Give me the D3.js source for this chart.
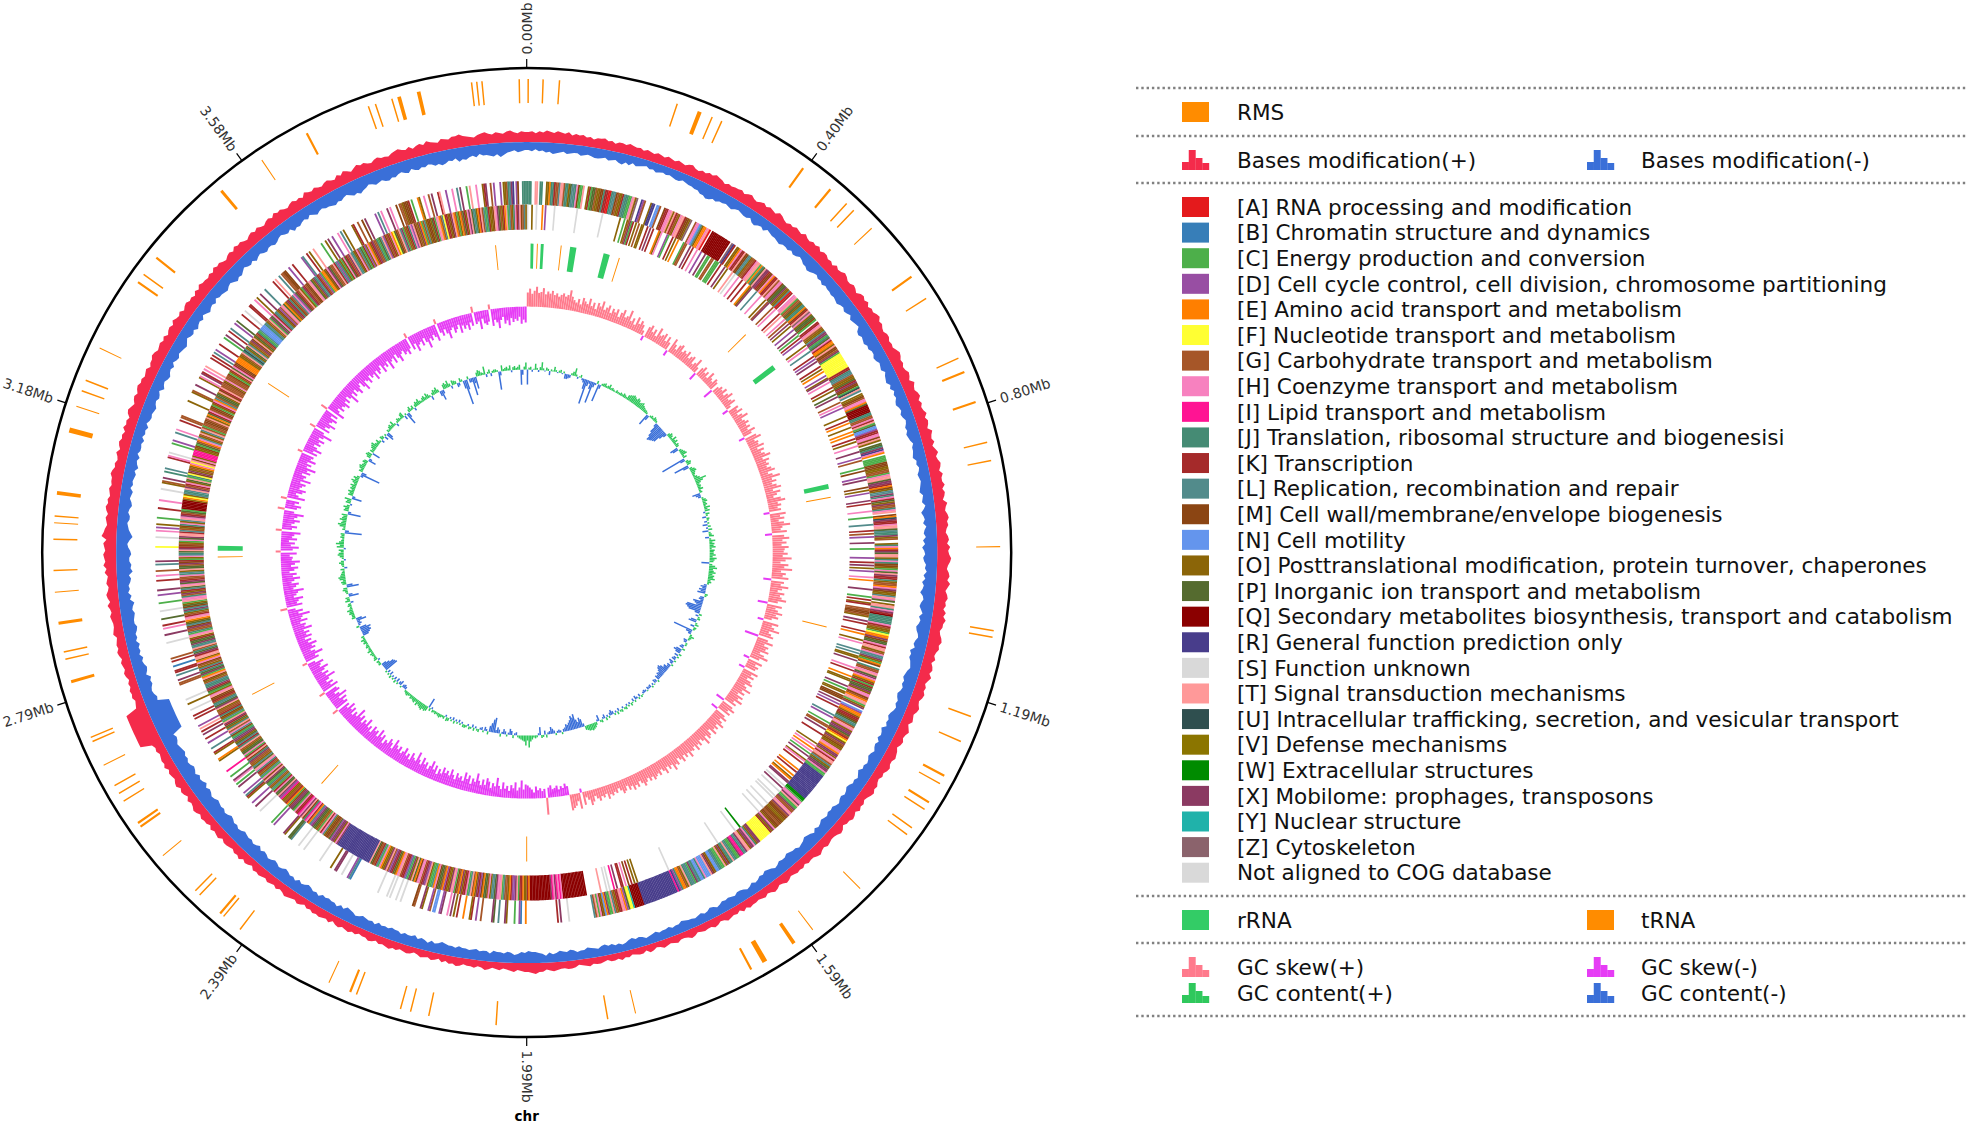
<!DOCTYPE html>
<html>
<head>
<meta charset="utf-8">
<script src="https://cdn.jsdelivr.net/npm/d3@7"></script>
<style>
html,body{margin:0;padding:0;background:#fff;overflow:hidden}
svg{display:block}
text{font-family:"DejaVu Sans",sans-serif}
</style>
</head>
<body>
<svg id="chart" width="1968" height="1126"></svg>
<script>
const genomeMb = 3.98;
const tickMb = [0,0.398,0.796,1.194,1.592,1.99,2.388,2.786,3.184,3.582];
const tickLabels = ["0.00Mb","0.40Mb","0.80Mb","1.19Mb","1.59Mb","1.99Mb","2.39Mb","2.79Mb","3.18Mb","3.58Mb"];
const chromosomeName = "chr";

// RMS sites: centre (Mb) and length (Mb)
const rmsPos = [0.002,0.022,0.044,0.205,0.237,0.255,0.269,0.395,0.441,0.470,0.483,0.517,0.601,0.636,0.727,0.747,0.790,0.846,0.871,0.987,1.100,1.109,1.219,1.255,1.306,1.318,1.347,1.358,1.388,1.399,1.495,1.579,1.610,1.656,1.677,1.843,1.881,2.031,2.122,2.147,2.161,2.223,2.232,2.263,2.402,2.430,2.436,2.473,2.481,2.545,2.594,2.600,2.635,2.647,2.659,2.690,2.725,2.731,2.810,2.841,2.851,2.890,2.932,2.961,3.003,3.025,3.034,3.065,3.151,3.184,3.206,3.221,3.268,3.370,3.383,3.411,3.536,3.604,3.674,3.764,3.774,3.797,3.807,3.834,3.906,3.913,3.920,3.970];
const rmsLen = [0.002,0.002,0.002,0.002,0.0055,0.002,0.002,0.003,0.003,0.002,0.002,0.0014,0.003,0.002,0.002,0.003,0.003,0.002,0.002,0.0014,0.002,0.002,0.002,0.002,0.003,0.002,0.003,0.002,0.002,0.002,0.0014,0.0014,0.005,0.007,0.003,0.0014,0.002,0.002,0.002,0.002,0.002,0.002,0.003,0.0014,0.002,0.002,0.003,0.002,0.002,0.0014,0.003,0.003,0.002,0.002,0.002,0.0014,0.002,0.002,0.004,0.002,0.002,0.004,0.0014,0.002,0.002,0.0014,0.002,0.005,0.007,0.0014,0.002,0.002,0.0014,0.003,0.002,0.003,0.004,0.0014,0.003,0.002,0.002,0.002,0.005,0.005,0.002,0.002,0.002,0.002];

// tRNA and rRNA of the inner feature ring
const trnaPos = [0.022,0.071,0.193,0.499,0.881,1.149,1.990,2.450,2.683,2.976,3.352,3.916];
const trnaLen = [0.002,0.002,0.002,0.002,0.002,0.002,0.002,0.002,0.002,0.002,0.002,0.002];
const rrnaPos = [0.011,0.032,0.096,0.166,0.588,0.858,2.994];
const rrnaLen = [0.006,0.006,0.013,0.013,0.011,0.010,0.010];

// Bases modification, two values per degree of the genome
const basesPlus = [
10,11,9,11,10,12,11,10,12,11,10,12,9,11,10,11,9,10,8,10,
10,11,9,10,8,10,10,9,11,10,9,10,8,10,9,8,10,9,8,10,
9,8,10,9,8,10,11,9,8,10,9,11,10,12,11,10,8,10,9,10,
10,11,9,11,12,10,9,11,12,10,12,11,10,13,12,10,9,11,10,12,
11,10,13,11,10,12,11,13,10,12,12,10,11,9,12,10,11,13,12,10,
10,12,11,9,12,13,11,13,10,12,11,13,14,11,12,10,9,11,11,9,
10,9,11,13,12,10,11,9,10,12,11,9,13,11,10,12,13,10,12,10,
11,13,10,12,11,9,13,11,10,12,9,11,13,10,11,13,12,10,13,11,
11,13,10,12,11,9,13,11,10,12,13,11,12,10,9,11,12,10,13,11,
12,14,13,11,10,12,13,11,14,12,10,12,13,11,12,10,13,11,14,12,
12,10,11,13,14,12,13,11,10,12,9,11,12,10,13,11,9,11,10,12,
11,9,10,12,11,9,10,11,8,10,12,10,9,11,10,8,10,11,12,10,
10,12,11,9,10,8,9,11,10,12,11,9,8,10,9,11,8,10,11,9,
9,7,10,11,9,8,8,9,10,8,9,11,10,8,8,9,7,9,8,9,
8,7,9,10,8,7,9,10,8,7,9,8,7,8,8,9,7,9,6,8,
7,8,9,7,6,8,9,7,7,8,7,6,8,9,7,6,6,8,7,6,
7,8,6,5,7,8,5,7,7,6,5,7,6,8,6,7,7,5,6,7,
7,6,8,7,6,5,7,8,8,7,7,8,9,8,7,9,9,11,10,9,
9,8,7,9,8,7,6,8,7,6,8,9,7,6,8,7,7,6,8,9,
7,8,6,8,5,7,8,6,7,8,6,5,7,8,7,6,8,7,9,8,
7,8,6,8,9,7,7,6,8,7,9,8,7,9,8,6,9,7,8,9,
8,9,7,8,6,8,9,7,8,9,10,8,7,9,7,8,9,7,8,9,
8,9,6,8,9,7,10,8,9,7,8,9,9,7,10,9,8,10,7,9,
9,10,8,10,11,9,8,10,7,9,10,8,11,10,8,9,10,8,11,9,
10,9,8,10,9,11,22,22,22,22,22,22,22,22,22,22,10,9,8,10,
9,10,8,9,7,9,10,8,9,10,8,10,11,9,10,9,8,11,10,9,
9,10,11,9,10,12,9,11,12,10,9,11,10,9,12,10,13,11,12,13,
11,12,13,10,15,13,12,10,11,12,10,12,13,11,12,10,11,12,10,11,
11,13,12,10,11,9,10,12,9,11,12,10,11,9,12,10,11,9,12,13,
11,9,11,12,10,12,13,11,12,10,11,12,9,11,11,13,12,10,11,12,
10,12,9,11,12,10,13,11,10,12,9,11,12,10,11,9,12,10,13,11,
11,10,12,10,13,11,12,10,9,11,12,10,13,11,12,10,9,11,12,10,
12,10,9,11,12,10,13,11,12,10,9,11,12,10,11,9,13,11,10,12,
10,9,11,12,10,9,12,10,13,11,9,11,13,11,12,10,9,11,12,10,
10,9,11,12,13,11,10,12,9,11,12,10,13,11,10,9,12,11,10,12,
12,13,11,10,9,8,10,11,12,10,9,11,10,9,11,12,10,9,11,10];
const basesMinus = [
8,9,7,9,8,10,9,11,10,9,8,10,9,8,8,10,9,8,9,10,
10,9,8,10,9,8,10,11,8,10,7,9,8,7,6,8,7,9,8,7,
8,7,8,9,9,7,8,9,9,10,10,12,12,14,13,11,12,10,10,9,
10,11,9,8,9,10,10,8,11,12,10,9,11,8,9,10,10,11,12,10,
10,11,9,11,10,8,9,11,11,13,12,10,9,11,10,12,10,11,11,12,
11,12,13,11,10,12,11,9,12,11,10,9,13,14,12,13,14,12,13,11,
11,13,12,10,11,12,9,11,12,13,10,12,9,11,10,12,13,11,10,12,
11,9,10,12,11,13,12,11,9,11,11,12,13,10,11,9,10,12,11,10,
11,12,13,10,11,12,9,11,14,12,11,13,10,12,13,11,14,12,15,13,
12,14,13,11,12,10,13,11,14,12,13,15,12,11,13,14,12,10,13,11,
12,14,13,11,10,12,13,11,15,13,14,12,11,10,12,13,14,12,13,11,
12,14,13,11,12,10,11,13,14,12,13,11,15,13,12,14,11,13,12,10,
12,13,11,10,12,11,14,12,10,12,11,13,14,12,11,13,12,10,11,13,
12,13,11,12,13,11,10,12,9,11,12,13,11,10,9,11,11,12,13,11,
11,12,10,9,11,12,13,11,12,10,9,11,9,8,10,11,11,9,10,11,
10,11,9,8,10,11,9,8,10,9,8,9,9,10,11,9,9,8,10,9,
9,8,10,9,8,7,9,10,9,11,10,8,7,9,8,10,9,11,10,8,
9,10,11,9,9,8,10,11,9,10,11,9,8,10,7,9,10,11,11,12,
10,11,9,8,10,11,9,10,10,11,8,10,10,9,11,10,9,10,10,11,
9,10,10,11,12,10,9,11,8,10,11,9,12,10,10,11,9,11,11,12,
10,11,10,12,9,11,10,11,12,10,9,11,12,13,10,12,9,11,11,12,
11,12,9,11,10,12,13,11,10,12,9,11,10,12,13,11,10,12,13,11,
10,12,13,11,14,12,11,13,12,13,14,12,11,13,12,14,15,13,12,14,
13,14,15,13,12,14,15,13,16,14,13,15,12,14,15,13,12,14,13,15,
14,13,12,14,15,13,24,24,24,24,24,24,24,24,24,24,13,14,12,11,
12,14,13,15,11,13,14,12,11,13,10,12,11,13,10,12,11,13,14,12,
12,13,14,12,13,15,11,13,10,12,11,13,14,12,16,14,15,13,13,15,
14,12,11,13,16,14,12,11,10,12,12,10,11,13,12,10,11,12,9,11,
10,11,12,10,13,11,10,12,9,11,11,10,12,9,11,10,12,9,11,12,
11,12,13,11,10,12,11,9,13,11,10,12,13,11,10,12,9,11,12,10,
11,12,13,11,9,11,12,10,13,11,10,12,9,11,13,11,10,12,9,11,
11,12,13,11,10,12,14,12,13,11,9,11,12,10,13,11,10,12,13,11,
11,13,12,10,9,11,12,10,14,12,13,11,10,12,9,11,13,11,10,12,
12,13,14,12,13,11,10,12,14,13,15,13,12,10,11,13,12,11,13,14,
12,13,11,10,12,13,10,12,13,11,12,10,11,13,12,14,13,11,12,10,
14,12,13,11,10,12,9,11,11,12,13,11,14,12,10,9,8,10,9,8];

// COG classes, one string per 10-degree sector; "." is no gene, "n" is not aligned
const cogOuter = [
"JJJ..TT.JJ..OOEJJKGGLTTGJJOPLLJHMCCT..OK","CPPGOOMMJKKAAJLLMGOOKLJJCCHTOZ..RDG...OR","R.NNG..MKKHHTOTKGOHTTKMMOZ..GHHNLOEEHTA.",
"QQQQQQQQQQQQQ.ZRK.OOEHKKTMMLLOGGKHTTCEJP","TXXKMMHEKKTGHHMPPXOOLAK.HHTCGGPOJJEMKTZH","OPPMC.KKHTGOOLXXCJPHKEEOTMMGXCFFFFFFFFFF",
"KKJLLGOOPKXMMCUTL.OOMGHHEPQQQQQJJGGHKTCP","NNDKKHHMTO.PPJXRHE.CCCCMMMOOGGCHTTPXXKEM","OLLXJHKPOXGGJHT.MEUXKKHTTPLJJXOG..OJHEKX",
"PTTOJHJMMOCHPTXKKJOGGEHXMOOLTHP.OTTJHXKQ","JJJJJHKGOOCFEEXMPPHKTTOGHLLXOCEM.JGGHTPX","HEOKCKPPXOHHMGETTCOX.NDEEOKKMPLJGTHOXXPG",
"KEFOXGMOOHTEXXOHKTTGLOPXXHCCRRRRRRRRRRRR","RRRRRRWWCHHXTCCXGGHTXGMMOOMMGMMOHXOKFFFF","FFFFXXOJHXXOTTXLJIIXCCJLTJJMXOTCCJLNNOMX",
"TNNNHJNNJLXCLLJTOGEEJDRIRRRRRRRRRRRRRRRR","RRRRRRQQQQQQYFFPDEHTKKOGLTCCXENOMHCTGL..",".............n....X.K...................",
"E..BD..C....OX...L..PX......G..D..KO...E","...K.O.X.H...XD..NN.GD...OX...GM.......n","..n...n.n.....n..................BLD...n",
"...XX..O.......n...........n...n.....LPP","..OX.......D.C.........n...X..D...OKL.D.","...X.C.HX..C...I.......OE...OK..L...D..K",
"..X.K.T.D....K.K...n...O..n.........GG.X","..L.KK..B..K.G.........n....X...H.K...P.","...n....C....D..X.....K..H..G...L.X.....",
"...F.....n...H.D.O...C.....K....H......n","...OG.X...J.L......KH.n.....C.D....L.H..","...K.GG.........O.....OG...X....OH.XK.H.",
"T.....K.K.L.D...K....C.X..K.L...D.P....K","..n...KK...H.O..X...L......K.T..L.GGMM..","D..K......DL..K.O..T.....C..O.X..D...H.L",
".O.....OK..G..M.X......D.L.H...X.H...M.G","GOMMMK.C...EO..H..G.X...KT...D...H..L.X.","..C.T...H...OKX..G.D...D.OOGJLXR.DM..JJJ"];
const cogInner = [
"n..O..n...E.D.....n..............n......","..........n...........O..C.OGXCK.O.G.OO.",".K.X.K...EOH...DC..K.O.E...CGG..X.K..H..",
"D..X.CC.GG.CCC.K..X.O...T.n..H..K..K..E","OX...L...H...O.GX...G.H...K.T..H.G.X.O..","D..X.C.K.D...O.H..L...K.D.X...K.O.E..D.O",
"X.H...K.O..P.X...G.H.D.....O..K.E..O..E.","E..K.O..H...X...D.G....C.M...D.X....M.O.","D....X.K....H...C....L...K.G.D...X...C..",
"...D..K.X.O.D...H.E.....X....C.K.OK..GGM","MGO..X.K....K.E...O.H....L.L.OO.X....H.K","...E.OO...X.C.OO.MMM.X.D.K.....L.D...C.G",
"G.X...K......O.H.E.H.C.X..OH.K....E.K..E",".OE.XX..n.X..n...n.n....n...n...n.......","........W...n.............n.............",
".......................n................",".....O.O.K.M.H.KK..X.I..n.n...T.........","QQQQQQQQQQQQQQQQHIHIXHIXQQQQQQQQQQQQQQEK",
"OOEKKCTXDDKEOGGLCTHHXPLLOHGPPEMDKXOEGTLC","HKKOXEGMCHTXOOKDEGPPMHELCCOTDXKGHHMEPTOX","CLDKKGTHEOPKXDGTXOOEHCLKGMPTRRRRRRRRRRRR",
"RRRRRRRRRRRRXHOXXDPGMMOLHKTCGOPPXDLEKHIJ","MTXHIKKHCPXXMCEKGOOIDXTPPHKCLOGJCPXTMHCL","OGKJHTPLOGGXJMTKCHPPOGTJKLPOXXJCMLHGTJOP",
"KXTCLOMJKGGOTXPLJGKMMTHOCPKXJJLGOMTECXPJ","KLOGMHEOTTKXPJGTLJXPPKOTHCJGGXMLPOETHKGO","JXLMPOCTHHJGXOKLPTHPXKGGHJLOTPPGXMKCOHLJ",
"PTXKMGOCHPXTTKLGOMJHOLTHXKGPCQQQQQQOEFOL","JLTXGKHOPTCJFMXOGOEHFTMHOIIIIOOMCPGEHLOG","TOLTGCGGMMGTOEPKHGMMCOKHELGPPOTMKTGGGMOH",
"GGGMCOKTPHKMMEEEEOOGTJULOPTLOGXMTOPGKJCL","NNNNJLOGTCXPHKJLOMDGHTPEOXKJMGLHDPKGTOCX","KGMMTHPOXJLKGDCEEOMHXPGGTKLDJOCMHPKGXTLJ",
"OMHGLPCMDOHEOKXGGJCPLTDMGKOHEFPMGTLXCGOK","JHDTMGOXECGLOMMOPKCHTEGLFKKOMXTEGCOEGPKO","HXTPLJOEKTGLCJKOOMTHXPGOKETCLGOJHKXTMGLO"];

// GC skew, two values per degree
const gcSkew = [
14,18,13,16,20,14,15,19,13,16,14,17,13,15,12,14,16,13,15,20,
14,11,9,13,8,15,12,10,16,9,13,7,14,11,17,9,12,15,8,13,
10,14,7,12,16,9,11,18,8,12,6,15,9,13,10,5,-5,11,14,8,
12,6,16,9,11,14,7,13,8,-6,15,10,6,12,14,8,11,9,13,7,
10,12,5,8,14,6,-8,9,12,7,10,5,13,8,6,11,9,-10,7,10,
8,12,6,10,14,7,9,12,5,-6,11,8,13,6,10,15,7,9,12,8,
11,7,14,9,-6,12,16,8,11,10,15,7,13,9,12,17,8,14,10,12,
9,13,16,8,12,19,10,14,9,13,17,8,15,11,7,14,18,10,13,9,
12,-6,16,10,14,8,13,19,11,9,15,-7,12,17,10,14,9,16,12,11,
15,10,19,13,8,16,12,20,9,14,11,17,-8,13,10,18,12,8,15,11,
13,18,10,-10,15,9,12,17,11,14,8,-6,16,10,13,19,9,12,15,-14,
11,17,9,14,12,16,8,13,18,10,-6,15,9,13,11,-6,16,10,14,8,
13,16,9,12,18,10,14,8,15,11,17,9,13,-9,12,16,10,14,-7,11,
15,9,13,17,10,14,11,16,8,13,15,10,18,12,9,14,11,16,10,13,
12,17,11,14,10,16,12,9,15,13,18,11,14,10,16,12,9,14,11,13,
15,11,14,10,13,16,12,9,14,11,15,10,13,8,12,14,10,7,11,9,
12,10,14,8,11,9,13,10,7,12,15,9,6,13,-4,16,8,12,14,16,
-9,-12,-8,-10,-7,-11,-9,-8,-12,-10,17,-9,-7,-10,-8,-12,-6,-9,-11,-13,
-14,-9,-18,-11,-8,-16,-10,-13,-7,-12,-9,-15,-8,-11,-19,-10,-13,-8,-14,-17,
-10,-15,-9,-13,-20,-11,-14,-8,-16,-12,-18,-9,-13,-11,-15,-8,-12,-17,-10,-14,
-11,-16,-9,-13,-7,-15,-10,-18,-12,-8,-14,-11,-17,-9,-13,-20,-10,-12,-16,-8,
-13,-10,-17,-12,-9,-15,-11,-14,-19,-8,-13,-16,-10,-12,-7,-15,-11,-18,-9,-14,
-12,-16,-8,-13,-10,-18,-11,-14,-9,-16,-12,-20,-10,-13,-8,-15,-11,-17,-9,-13,
6,-14,-11,-16,-9,-19,-12,-8,-15,-13,6,-17,-10,-14,-8,-12,-20,-11,-15,-9,
-13,-18,-10,-12,-16,-8,5,-14,-11,-20,-13,-9,-15,-12,-18,-10,-14,-8,-16,-11,
-15,-10,-19,-12,-14,-9,-17,-11,-13,-21,-10,-15,-8,7,-16,-11,-13,-18,-9,-12,
-14,-20,-10,-13,-16,-9,-12,-18,-11,-15,-8,-13,-17,-10,-14,-19,-11,-12,-9,-16,
5,-12,-18,-10,-14,-8,-16,-11,-13,-19,6,-10,-15,-9,-12,-17,-11,-14,-20,-10,
7,-12,-16,-9,-13,6,-18,-11,-8,-14,-17,-10,-12,-15,-9,-19,-11,-13,-8,-16,
-12,-20,-10,-14,-9,-17,-11,-13,5,-15,-10,-18,-12,-8,-14,-11,-16,-9,-13,-21,
-11,6,-15,-9,-13,-18,-10,-12,-16,-8,-14,7,-19,-12,-9,-15,-11,-13,-17,-10,
-14,-8,-12,-20,-10,-15,-9,-13,-17,-11,-8,-14,-19,-10,-12,-16,-9,-13,-11,-18,
-10,-15,-12,-8,-17,-11,-14,-9,-19,-12,-10,-16,-8,-13,-18,-11,-9,-14,-12,-16,
-11,5,-14,-9,-18,-12,-10,-15,-8,-13,-20,-11,-14,-9,-12,-17,5,-10,-14,-8,
-13,-19,-11,-9,-15,-12,-8,-17,-10,-14,-11,-16,-9,-13,6,-12,-10,-18,-8,-13,
-15,-12,5,-17,-11,-14,-20,-12,-9,-16,-13,-18,-11,-15,-12,-14,-10,-17,-13,-16];

// GC content, two values per degree
const gcContent = [
-15,2,3,-2,1,6,2,-2,3,8,2,-1,3,2,-4,2,1,5,2,-1,
2,3,-1,2,-5,-5,-4,-3,2,4,8,2,-2,1,3,-2,-4,-10,-25,-6,
-3,-8,-22,-5,-2,3,-18,-4,2,3,4,2,3,5,2,3,2,1,3,2,
2,3,2,4,3,2,5,6,7,8,7,6,8,7,5,6,7,5,4,3,
3,2,-12,-5,2,3,2,4,3,2,-4,-10,-14,-18,-17,-16,-15,-14,-8,-4,
3,5,4,2,6,3,5,2,4,3,-8,-6,3,4,5,6,2,4,-25,-5,
3,5,4,-15,-6,3,5,6,4,3,2,4,6,12,8,5,3,4,3,5,
2,3,-8,-5,-3,2,4,5,3,4,2,6,3,5,-2,4,2,-4,3,2,
-3,2,-5,3,-2,4,-6,2,3,5,-4,2,6,3,5,4,6,2,5,4,
4,6,3,7,5,4,-8,3,6,8,4,5,7,4,6,5,7,3,4,2,
-3,-6,-4,-7,-5,-8,3,2,-4,-5,-3,-10,-8,-6,-15,-16,-14,-12,-5,3,
-3,2,3,-6,-8,2,4,-4,3,2,-20,-6,-3,2,5,3,2,-4,-3,2,
2,-3,-4,3,-6,-8,-5,3,-4,2,-3,-4,2,-5,-3,2,-4,-3,-6,-5,
-8,-10,-9,-7,-5,-6,-4,-5,2,-3,-4,1,-2,2,-3,-2,-3,1,-2,-3,
-2,1,2,-3,2,-2,-4,2,-3,1,3,-2,2,-2,3,2,-2,3,2,-3,
3,-2,2,-3,-5,-3,2,-2,3,-4,-2,3,2,-6,-2,3,5,6,7,6,
6,5,4,-3,-8,-10,-6,-9,-15,-12,-14,-10,-8,-6,-7,-4,-3,2,-2,-3,
-2,2,-3,-5,-7,-3,-2,3,-4,2,3,-8,-2,2,3,2,4,6,12,5,
10,6,5,4,3,2,-3,-2,3,-4,-6,-2,2,-3,-5,-2,3,-4,-6,-3,
-15,-13,-9,-6,3,-2,-4,2,-3,-2,3,2,-2,3,-3,2,3,-2,2,3,
3,-2,2,-3,2,-2,3,-3,2,-2,3,4,-2,3,2,3,4,3,2,3,
2,3,-2,3,-10,5,6,5,7,6,5,4,6,3,5,4,3,4,2,3,
4,3,2,-3,-4,-3,2,-5,-3,2,-4,3,-3,2,-2,3,-4,2,-3,2,
-14,-13,-12,-8,-5,3,2,3,-2,4,3,2,3,4,2,5,3,2,4,3,
2,4,3,5,2,3,-6,-8,-10,-9,-11,-7,3,-2,-4,-3,-10,-6,4,3,
3,5,4,6,3,2,4,3,-3,5,3,4,-10,-4,2,3,5,4,-12,-6,
4,5,3,6,7,5,4,3,2,4,-3,2,3,5,3,-2,2,4,6,5,
3,5,-2,7,4,8,5,3,2,4,3,4,-17,-4,3,2,6,8,5,4,
7,5,4,6,-13,-3,5,4,6,3,-2,5,4,7,-10,-3,5,4,6,3,
5,4,6,3,5,7,4,6,3,-3,-20,-5,4,3,5,6,4,3,5,4,
-8,-3,4,6,5,-8,4,3,5,6,7,4,3,5,2,-3,4,3,-4,2,
-8,-6,3,2,4,5,3,6,2,-3,2,4,3,2,5,6,-4,2,-12,-5,
3,5,2,4,-3,3,5,4,6,3,2,4,5,3,6,4,2,-4,3,5,
4,6,3,-5,-10,-4,5,6,4,7,3,-3,5,4,3,-4,-3,4,2,-8,
-25,-10,3,-4,-4,-18,-6,-12,4,6,5,3,2,8,-3,2,4,-3,2,3,
3,2,-18,-4,6,2,3,4,2,5,-2,3,4,2,3,5,-15,-5,3,7];

// Legend
const cogKeys = ["A","B","C","D","E","F","G","H","I","J","K","L","M","N","O","P","Q","R","S","T","U","V","W","X","Y","Z","n"];
const cogNames = ["[A] RNA processing and modification","[B] Chromatin structure and dynamics","[C] Energy production and conversion","[D] Cell cycle control, cell division, chromosome partitioning","[E] Amino acid transport and metabolism","[F] Nucleotide transport and metabolism","[G] Carbohydrate transport and metabolism","[H] Coenzyme transport and metabolism","[I] Lipid transport and metabolism","[J] Translation, ribosomal structure and biogenesisi","[K] Transcription","[L] Replication, recombination and repair","[M] Cell wall/membrane/envelope biogenesis","[N] Cell motility","[O] Posttranslational modification, protein turnover, chaperones","[P] Inorganic ion transport and metabolism","[Q] Secondary metabolites biosynthesis, transport and catabolism","[R] General function prediction only","[S] Function unknown","[T] Signal transduction mechanisms","[U] Intracellular trafficking, secretion, and vesicular transport","[V] Defense mechanisms","[W] Extracellular structures","[X] Mobilome: prophages, transposons","[Y] Nuclear structure","[Z] Cytoskeleton","Not aligned to COG database"];
const cogColors = ["#e41a1c","#377eb8","#4daf4a","#984ea3","#ff7f00","#ffff33","#a65628","#f781bf","#ff1493","#458b74","#a52a2a","#528b8b","#8b4513","#6495ed","#8b6508","#556b2f","#8b0000","#483d8b","#d9d9d9","#ff9999","#2f4f4f","#8b7500","#008b00","#8b3a62","#20b2aa","#8b636c","#d9d9d9"];
const histIcon = [0.4,1,0.6,0.35];

const C = {rms:"#ff8c00",trna:"#ff8c00",rrna:"#33cc66",basesP:"#f42b4b",basesM:"#3a6fd8",skewP:"#ff7a8c",skewM:"#e63cf5",gcP:"#2fc85c",gcM:"#3a6fd8"};

const svg = d3.select("#chart");
const cx = 526.7, cy = 552.6, R = 484.5;
const g = svg.append("g").attr("transform",`translate(${cx},${cy})`);
const angle = d3.scaleLinear().domain([0,genomeMb]).range([0,2*Math.PI]);
const deg = a => a*180/Math.PI;
const color = d3.scaleOrdinal().domain(cogKeys).range(cogColors);

// outer circle, ticks, labels
g.append("circle").attr("r",R).attr("fill","none").attr("stroke","#000").attr("stroke-width",2.5);
const tk = g.selectAll("g.tick").data(tickMb).join("g").attr("class","tick")
  .attr("transform",d=>`rotate(${deg(angle(d))-90})`);
tk.append("line").attr("x1",R).attr("x2",R+9).attr("stroke","#000").attr("stroke-width",1.2);
tk.append("text").text((d,i)=>tickLabels[i]).attr("font-size",14).attr("fill","#333").attr("dy","0.35em")
  .attr("text-anchor",d=>angle(d)<=Math.PI?"start":"end")
  .attr("transform",d=>angle(d)<=Math.PI?`translate(${R+13.5},0)`:`translate(${R+13.5},0) rotate(180)`);
svg.append("text").text(chromosomeName).attr("x",cx).attr("y",1121).attr("text-anchor","middle")
  .attr("font-size",13.5).attr("font-weight","bold").attr("fill","#000");

// feature bands
const arc = d3.arc();
function band(parent,pos,len,r0,r1,fill){
  parent.append("g").selectAll("path").data(pos).join("path")
    .attr("fill",fill)
    .attr("d",(d,i)=>arc({innerRadius:r0,outerRadius:r1,startAngle:angle(d-len[i]/2),endAngle:angle(d+len[i]/2)}));
}
band(g,rmsPos,rmsLen,449.5,473.5,C.rms);
band(g,trnaPos,trnaLen,284,309,C.trna);
band(g,rrnaPos,rrnaLen,284,309,C.rrna);

// bases modification
function basesArea(values,range,fill){
  const h = d3.scaleLinear().domain([0,25]).range(range);
  const n = values.length;
  const pts = d3.range(n+1);
  const area = d3.areaRadial().curve(d3.curveLinear)
    .angle(i=>angle((i+0.5)/n*genomeMb))
    .innerRadius(h(0))
    .outerRadius(i=>h(values[i%n]));
  g.append("path").datum(pts).attr("fill",fill).attr("d",area);
}
basesArea(basesPlus,[410.5,435.5],C.basesP);
basesArea(basesMinus,[410.5,385.5],C.basesM);

// COG rings
function cogRing(sectors,r0,r1){
  const sector = d3.scaleLinear().domain([0,sectors.length]).range([0,genomeMb]);
  const cells = [];
  sectors.forEach((s,k)=>{
    const inner = d3.scaleLinear().domain([0,s.length]).range([sector(k),sector(k+1)]);
    Array.from(s).forEach((c,j)=>{ if(c!=="."){cells.push({c,a0:inner(j),a1:inner(j+1)});} });
  });
  const gr = g.append("g");
  gr.selectAll("path").data(cells).join("path")
    .attr("fill",d=>color(d.c))
    .attr("d",d=>arc({innerRadius:r0,outerRadius:r1,startAngle:angle(d.a0),endAngle:angle(d.a1)+0.0006}));
}
cogRing(cogOuter,348,371.5);
cogRing(cogInner,323,348);

// signed histograms
function bars(values,base,colP,colM,w){
  const h = d3.scaleLinear().domain([-25,25]).range([base-25,base+25]);
  const n = values.length;
  g.append("g").selectAll("line").data(values).join("line")
    .attr("stroke",d=>d>=0?colP:colM).attr("stroke-width",w)
    .each(function(d,i){
      const a = angle((i+0.5)/n*genomeMb);
      const p0 = d3.pointRadial(a,h(0)), p1 = d3.pointRadial(a,h(d));
      d3.select(this).attr("x1",p0[0]).attr("y1",p0[1]).attr("x2",p1[0]).attr("y2",p1[1]);
    });
}
bars(gcSkew,246,C.skewP,C.skewM,2);
bars(gcContent,183,C.gcP,C.gcM,1.5);

// legend
const lg = svg.append("g");
const fs = 21.55;
function dotted(y){ lg.append("line").attr("x1",1136).attr("x2",1966).attr("y1",y).attr("y2",y)
  .attr("stroke","#808080").attr("stroke-width",2.4).attr("stroke-dasharray","2.4,2.9"); }
[88,136,183,896,943,1016].forEach(dotted);
function swatch(x,y,fill){ lg.append("rect").attr("x",x).attr("y",y-10).attr("width",27).attr("height",20).attr("fill",fill); }
function label(x,y,t){ lg.append("text").attr("x",x).attr("y",y).attr("dy","0.36em").attr("font-size",fs).attr("fill","#111").text(t); }
function hist(x,y,fill){
  const sx = d3.scaleBand().domain(d3.range(histIcon.length)).range([x,x+27]);
  const sy = d3.scaleLinear().domain([0,1]).range([y+10,y-10]);
  lg.append("g").selectAll("rect").data(histIcon).join("rect")
    .attr("x",(d,i)=>sx(i)).attr("y",d=>sy(d)).attr("width",sx.bandwidth()+0.2).attr("height",d=>sy(0)-sy(d)).attr("fill",fill);
}
const xA=1182,xT=1237,xB=1587,xU=1641;
swatch(xA,112,C.rms); label(xT,112,"RMS");
hist(xA,160,C.basesP); label(xT,160,"Bases modification(+)");
hist(xB,160,C.basesM); label(xU,160,"Bases modification(-)");
const rowY = d3.scaleLinear().domain([0,26]).range([207,872.7]);
cogNames.forEach((t,i)=>{ swatch(xA,rowY(i),cogColors[i]); label(xT,rowY(i),t); });
swatch(xA,920,C.rrna); label(xT,920,"rRNA");
swatch(xB,920,C.trna); label(xU,920,"tRNA");
hist(xA,967,C.skewP); label(xT,967,"GC skew(+)");
hist(xB,967,C.skewM); label(xU,967,"GC skew(-)");
hist(xA,993,C.gcP); label(xT,993,"GC content(+)");
hist(xB,993,C.gcM); label(xU,993,"GC content(-)");
</script>
</body>
</html>
